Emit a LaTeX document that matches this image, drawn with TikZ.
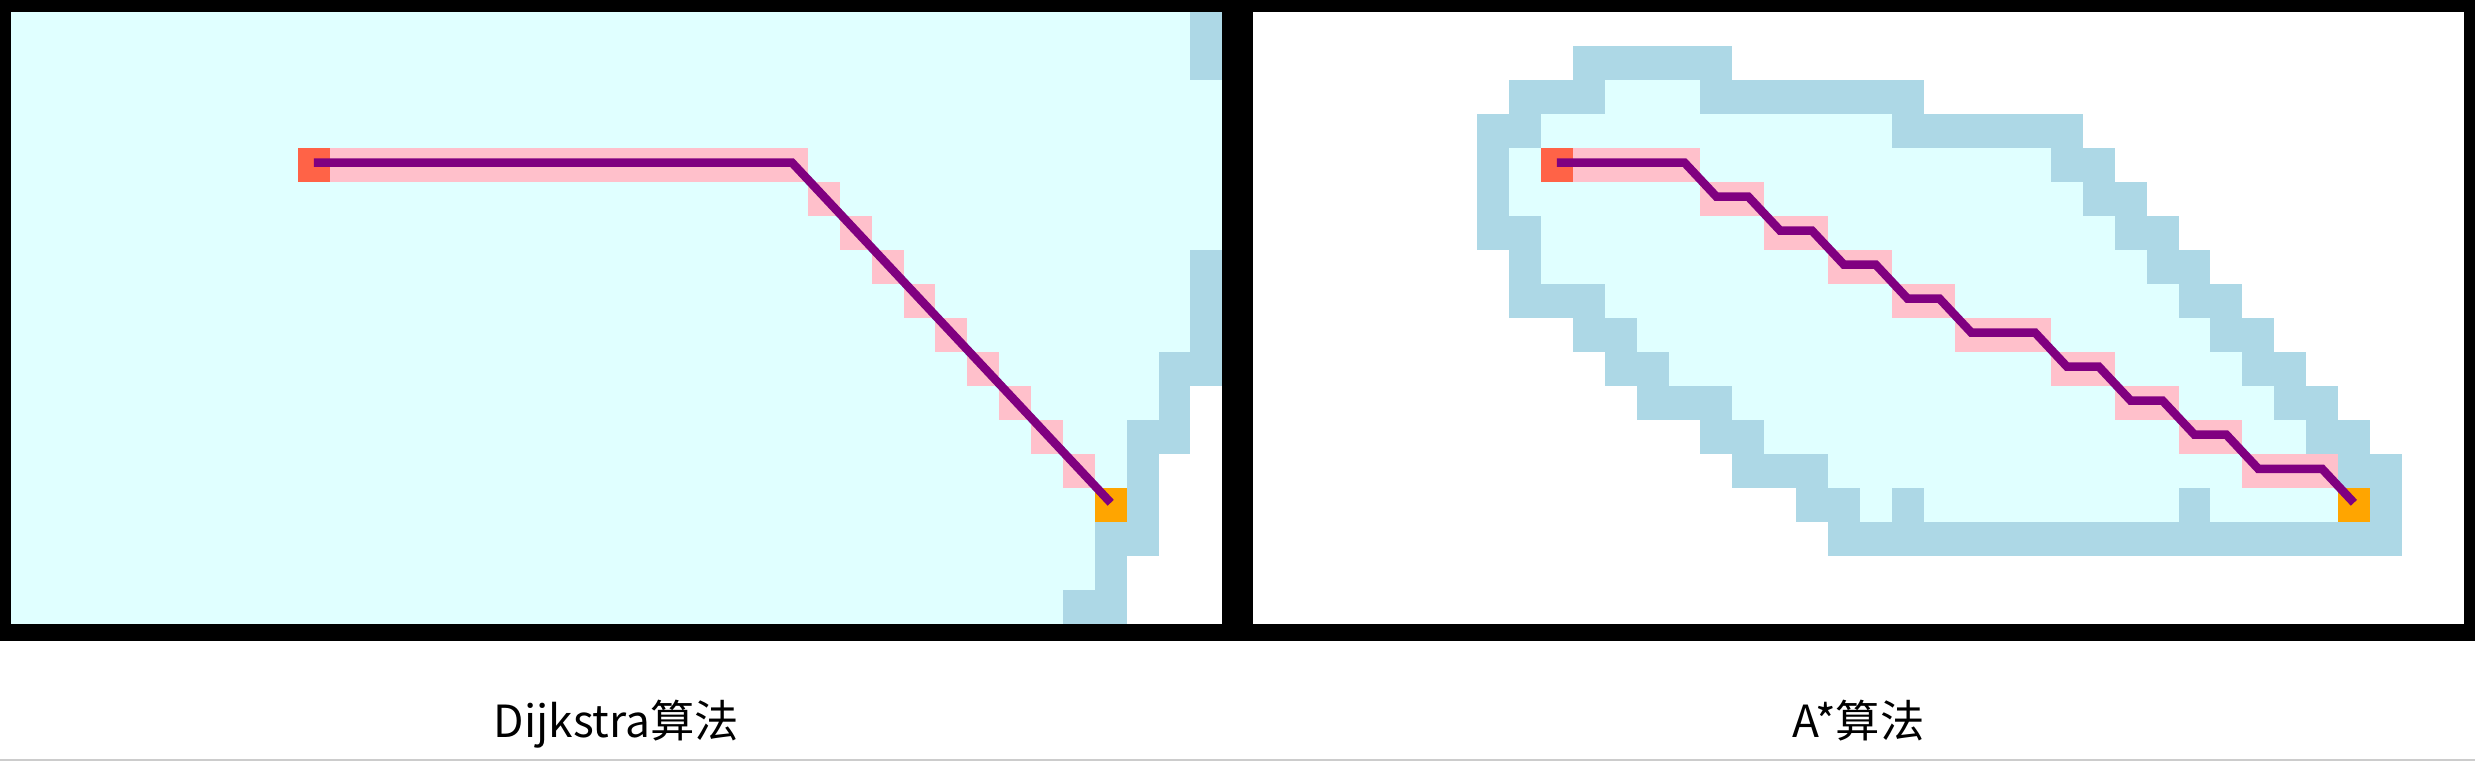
\documentclass[tikz,border=0pt]{standalone}
\usepackage{fontspec}
\setmainfont{Noto Sans CJK SC}
\definecolor{cyanbg}{HTML}{E0FFFF}
\definecolor{lblue}{HTML}{ADD8E6}
\definecolor{pinkc}{HTML}{FFC0CB}
\definecolor{startc}{HTML}{FF6347}
\definecolor{goalc}{HTML}{FFA500}
\definecolor{pathc}{HTML}{800080}
\tikzset{
  cellnode/.style={rectangle, inner sep=0pt, minimum width=0.31857cm, minimum height=0.34cm, draw=none},
  startcell/.style={cellnode, fill=startc},
  goalcell/.style={cellnode, fill=goalc},
  route/.style={draw=pathc, line width=0.085cm},
  caption/.style={anchor=base, inner sep=0pt, font=\fontsize{12.6pt}{15pt}\selectfont}
}
\begin{document}
\begin{tikzpicture}[x=0.01cm,y=-0.01cm]
\useasboundingbox (0,0) rectangle (2475,761);
\fill[white] (0,0) rectangle (2475,761);
% frame
\fill[black] (0,0) rectangle (2475,641);
\fill[cyanbg] (11,12) rectangle (1222,624);
\fill[white] (1253,12) rectangle (2464,624);
\fill[black!20] (0,759) rectangle (2475,761);
% grid scope
\begin{scope}[shift={(0.11cm,-0.12cm)}, x=0.318571cm, y=-0.34cm]
  % ---------- left panel (Dijkstra) ----------
  \foreach \r/\a/\b in {11/37/37, 12/37/37, 13/36/37, 14/36/37, 15/36/37, 16/35/37, 17/35/37}
    \fill[white] (\a,\r) rectangle (\b+1,\r+1);
  \fill[lblue] (37,0) rectangle (38,2);
  \fill[lblue] (37,7) rectangle (38,10);
  \foreach \r/\a/\b in {10/36/37, 11/36/36, 12/35/36, 13/35/35, 14/35/35, 15/34/35, 16/34/34, 17/33/34}
    \fill[lblue] (\a,\r) rectangle (\b+1,\r+1);
  \fill[pinkc] (10,4) rectangle (25,5);
  \foreach \k in {1,...,9}
    \fill[pinkc] (24+\k,4+\k) rectangle (25+\k,5+\k);
  \node[startcell] (ds) at (9.5,4.5) {};
  \node[goalcell] (dg) at (34.5,14.5) {};
  % ---------- right panel (A*) ----------
  \foreach \r/\a/\b in {2/50/52, 3/48/58, 4/47/63, 5/47/64, 6/48/65, 7/48/66, 8/50/67, 9/51/68, 10/52/69, 11/54/70, 12/55/71, 13/57/72, 14/58/72}
    \fill[cyanbg] (\a,\r) rectangle (\b+1,\r+1);
  \foreach \r/\a/\b in {1/49/53, 2/47/49, 2/53/59, 3/46/47, 3/59/64, 4/46/46, 4/64/65, 5/46/46, 5/65/66, 6/46/47, 6/66/67, 7/47/47, 7/67/68, 8/47/49, 8/68/69, 9/49/50, 9/69/70, 10/50/51, 10/70/71, 11/51/53, 11/71/72, 12/53/54, 12/72/73, 13/54/56, 13/73/74, 14/56/57, 14/59/59, 14/68/68, 14/74/74, 15/57/74}
    \fill[lblue] (\a,\r) rectangle (\b+1,\r+1);
  \foreach \r/\a/\b in {4/49/52, 5/53/54, 6/55/56, 7/57/58, 8/59/60, 9/61/63, 10/64/65, 11/66/67, 12/68/69, 13/70/72}
    \fill[pinkc] (\a,\r) rectangle (\b+1,\r+1);
  \node[startcell] (as) at (48.5,4.5) {};
  \node[goalcell] (ag) at (73.5,14.5) {};
  % path coordinates
  \begin{scope}[yshift=0.025cm]
    \coordinate (d1) at (24.5,4.5);
    \coordinate (ds0) at (9.5,4.5);
    \coordinate (dg0) at (34.5,14.5);
    \draw[route] (ds0) -- (d1) -- (dg0);
    \coordinate (as0) at (48.5,4.5);
    \coordinate (ag0) at (73.5,14.5);
    \draw[route] (as0) -- (52.5,4.5) -- (53.5,5.5) -- (54.5,5.5) -- (55.5,6.5) -- (56.5,6.5)
      -- (57.5,7.5) -- (58.5,7.5) -- (59.5,8.5) -- (60.5,8.5) -- (61.5,9.5) -- (63.5,9.5)
      -- (64.5,10.5) -- (65.5,10.5) -- (66.5,11.5) -- (67.5,11.5) -- (68.5,12.5) -- (69.5,12.5)
      -- (70.5,13.5) -- (72.5,13.5) -- (ag0);
  \end{scope}
\end{scope}
% captions
\node[caption] (lt) at (616.5,737) {Dijkstra算法};
\node[caption] (rt) at (1858.5,737) {A*算法};
\end{tikzpicture}
\end{document}
